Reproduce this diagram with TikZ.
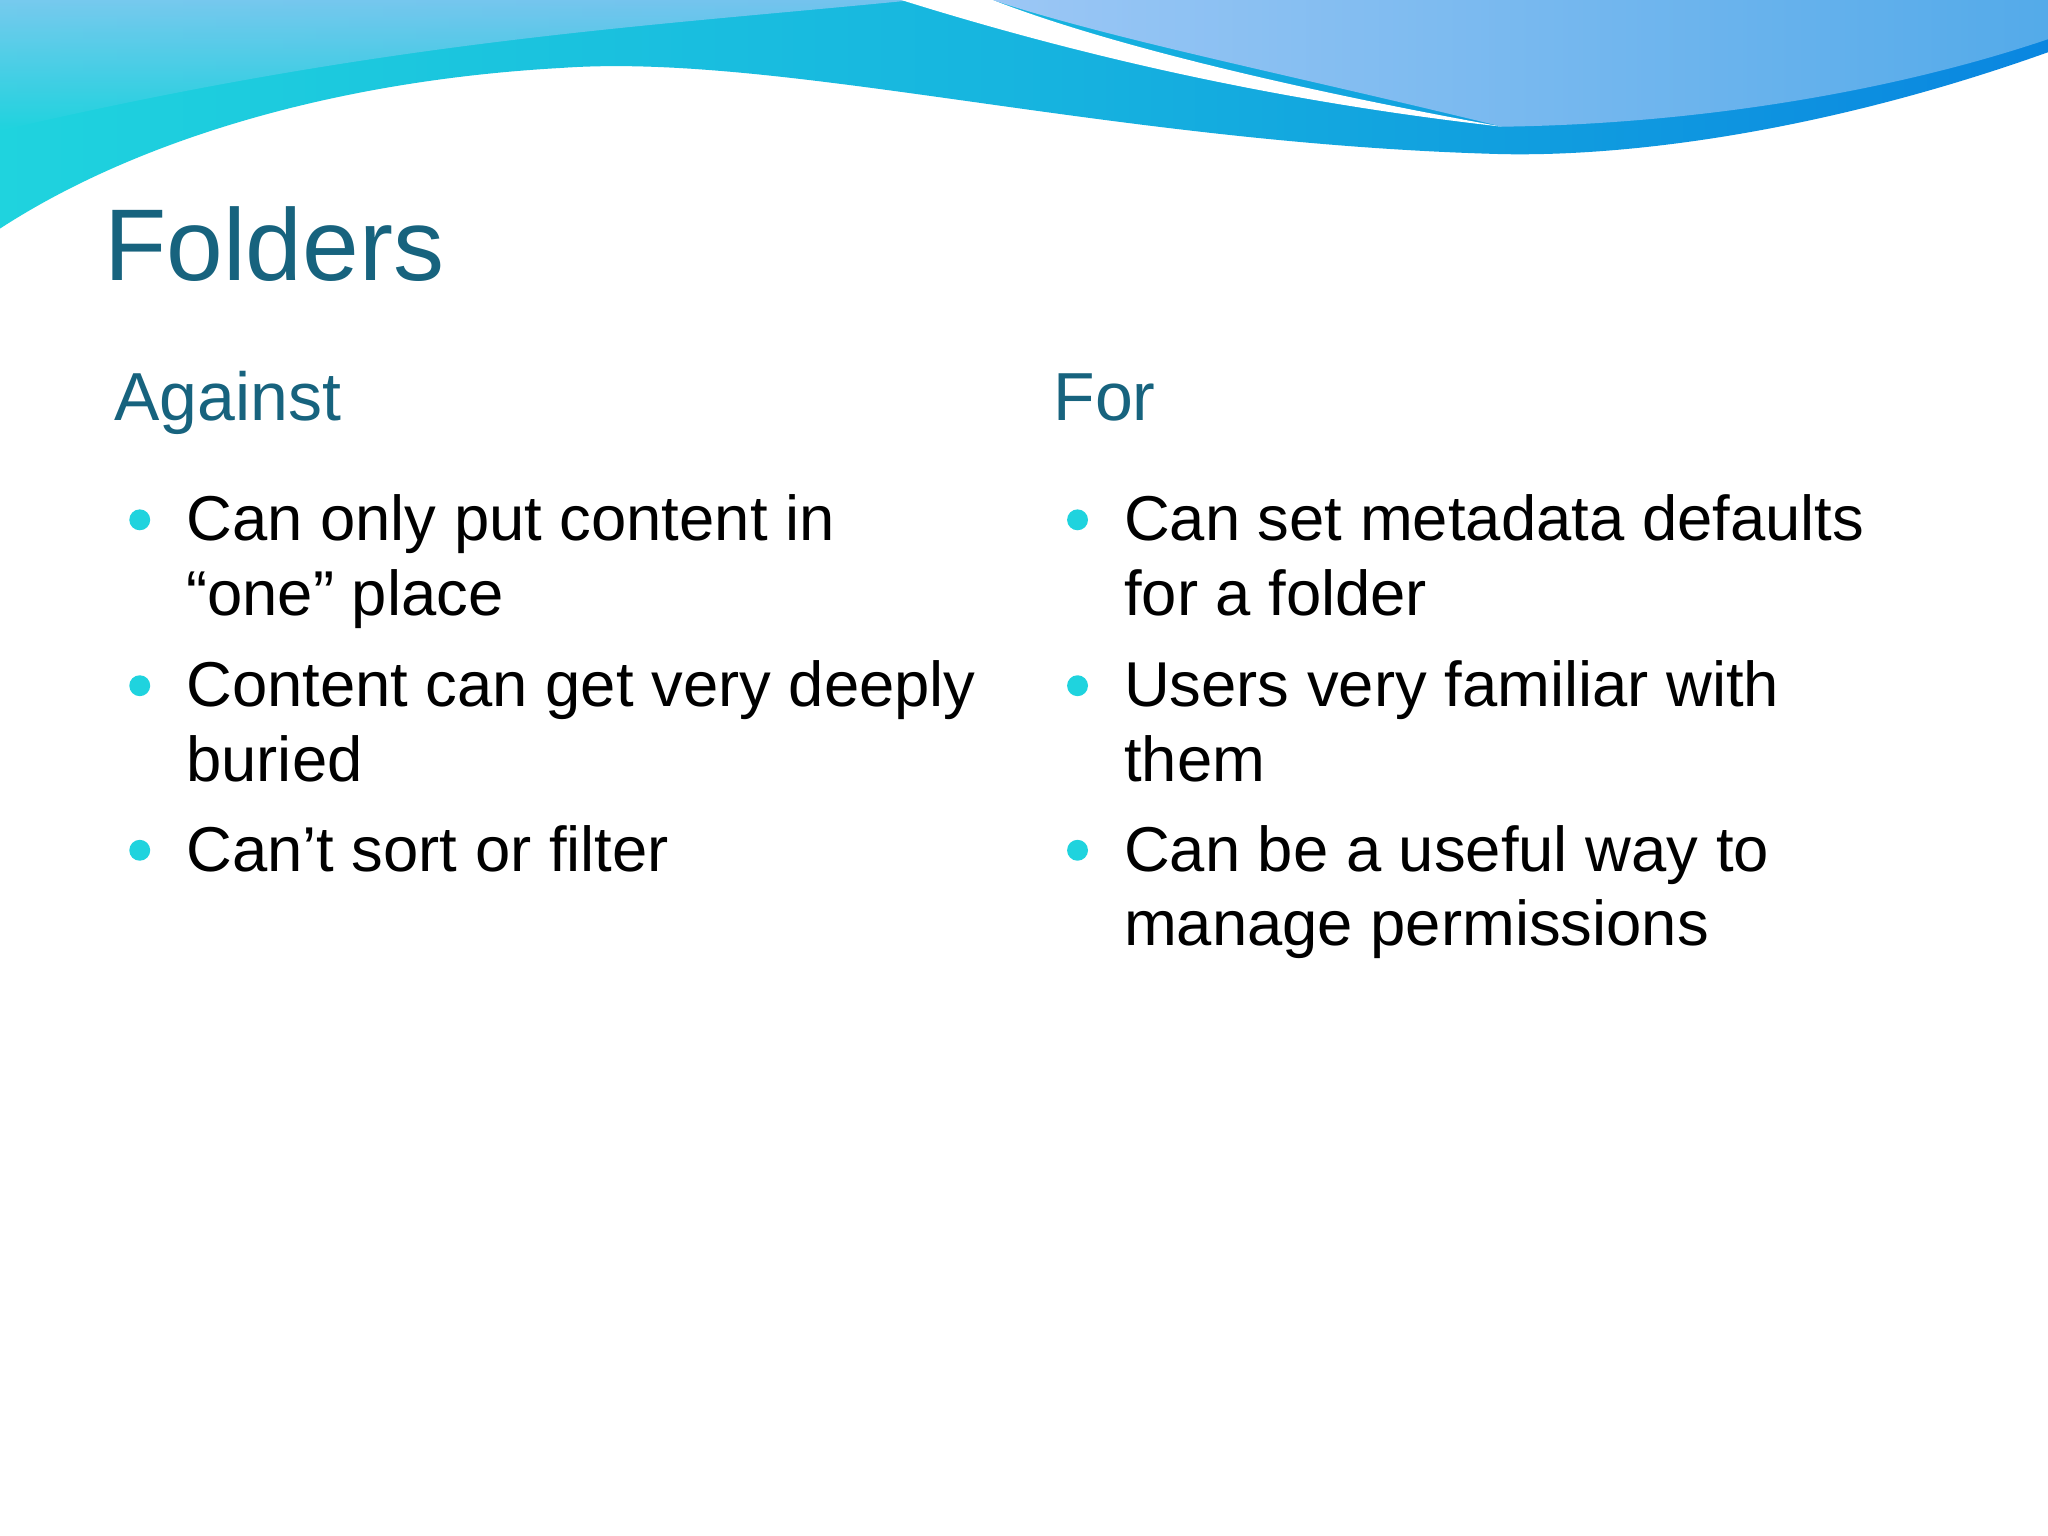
\documentclass[tikz,border=0pt]{standalone}
\usepackage{fontspec}
\setmainfont{Liberation Sans}
\definecolor{titleblue}{HTML}{17637E}
\definecolor{cyanA}{HTML}{1FD3DE}
\definecolor{blueA}{HTML}{0A86E0}
\definecolor{lightA}{HTML}{9CC7F5}
\tikzset{
  body/.style={anchor=base west, font=\fontsize{13.8pt}{18pt}\selectfont, text=black, inner sep=0pt},
  head/.style={anchor=base west, font=\fontsize{14.8pt}{18pt}\selectfont, text=titleblue, inner sep=0pt},
  dot/.style={circle, fill=cyanA, minimum size=0.16cm, inner sep=0pt}
}
\begin{document}
\begin{tikzpicture}[x=0.01cm,y=-0.01cm]
\useasboundingbox (0,0) rectangle (1568,1176);
\fill[white] (0,0) rectangle (1568,1176);
% wave band
\shade[left color=cyanA, right color=blueA, middle color=cyanA!60!blueA]
  (0,0) -- (1568,0) -- (1568,40) .. controls (1400,100) and (1250,120) .. (1150,118)
  .. controls (850,110) and (600,40) .. (430,52)
  .. controls (250,62) and (100,110) .. (0,175) -- cycle;
\shade[top color=lightA, bottom color=cyanA, opacity=0.7]
  (0,0) -- (700,0) .. controls (500,20) and (300,30) .. (0,100) -- cycle;
\shade[left color=lightA, right color=blueA!70]
  (760,0) -- (1568,0) -- (1568,30) .. controls (1450,70) and (1300,95) .. (1150,97)
  .. controls (1000,60) and (850,30) .. (760,0) -- cycle;
\fill[white] (690,0) .. controls (850,50) and (1000,80) .. (1150,97)
  .. controls (1000,70) and (850,35) .. (760,0) -- cycle;
% title
\node[anchor=base west, inner sep=0pt, text=titleblue, font=\fontsize{22.2pt}{28pt}\selectfont] (title) at (79,215) {Folders};
\node[head] (against) at (87,322) {Against};
\node[head] (for) at (806,322) {For};
% left bullets
\node[dot] (d1) at (107,398) {};
\node[body] (l1) at (142,414) {Can only put content in};
\node[body] (l1b) at (142,471) {“one” place};
\node[dot] (d2) at (107,525) {};
\node[body] (l2) at (142,541) {Content can get very deeply};
\node[body] (l2b) at (142,598) {buried};
\node[dot] (d3) at (107,651) {};
\node[body] (l3) at (142,667) {Can’t sort or filter};
% right bullets
\node[dot] (e1) at (825,398) {};
\node[body] (r1) at (860,414) {Can set metadata defaults};
\node[body] (r1b) at (860,471) {for a folder};
\node[dot] (e2) at (825,525) {};
\node[body] (r2) at (860,541) {Users very familiar with};
\node[body] (r2b) at (860,598) {them};
\node[dot] (e3) at (825,651) {};
\node[body] (r3) at (860,667) {Can be a useful way to};
\node[body] (r3b) at (860,724) {manage permissions};
\end{tikzpicture}
\end{document}
